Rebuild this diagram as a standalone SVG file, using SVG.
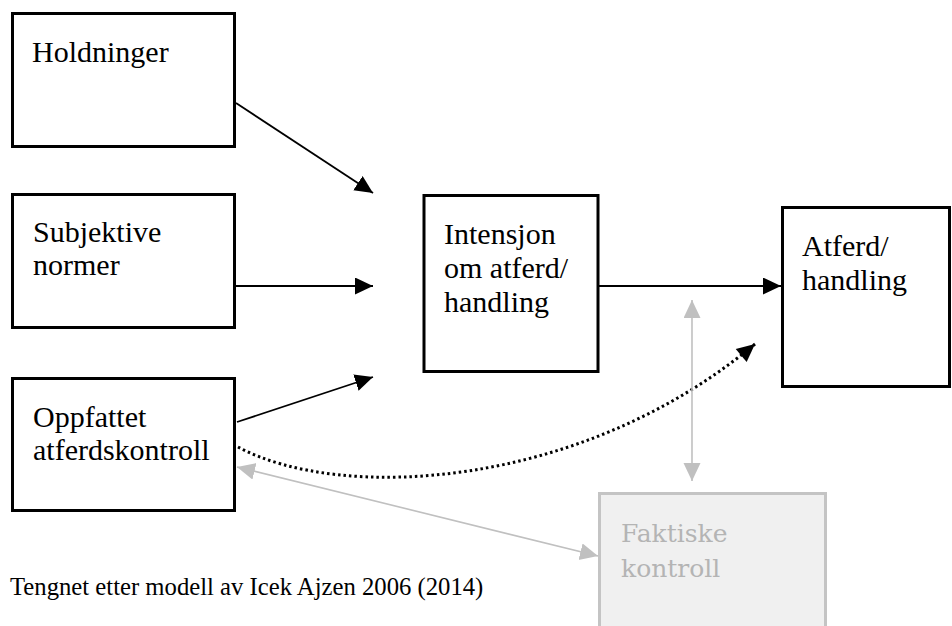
<svg xmlns="http://www.w3.org/2000/svg" width="952" height="626" viewBox="0 0 952 626">
<style>
.box{fill:#fff;stroke:#000;stroke-width:3}
.gbox{fill:#f0f0f0;stroke:#c4c4c4;stroke-width:3}
.lbl{font-family:"Liberation Serif","Times New Roman",serif;font-size:30px;fill:#000}
.glbl{font-family:"DejaVu Serif","Noto Serif",serif;font-size:25px;fill:#b4b4b4}
.cap{font-family:"Liberation Serif","Times New Roman",serif;font-size:24.7px;fill:#000}
.ln{fill:none;stroke:#000;stroke-width:1.8}
.dot{fill:none;stroke:#000;stroke-width:3;stroke-dasharray:2.5 3}
.gln{fill:none;stroke:#c0c0c0;stroke-width:1.6}
</style>
<defs>
<marker id="ah" markerUnits="userSpaceOnUse" markerWidth="20" markerHeight="20" refX="18" refY="8.5" orient="auto">
<path d="M0,0 L18,8.5 L0,17 z" fill="#000"/>
</marker>
<marker id="gh" markerUnits="userSpaceOnUse" markerWidth="20" markerHeight="20" refX="18" refY="8.5" orient="auto-start-reverse">
<path d="M0,0 L18,8.5 L0,17 z" fill="#c0c0c0"/>
</marker>
</defs>
<rect width="952" height="626" fill="#fff"/>
<g id="connectors">
<line class="ln" x1="236" y1="103" x2="373" y2="193" marker-end="url(#ah)"/>
<line class="ln" x1="236" y1="286" x2="373" y2="286" marker-end="url(#ah)"/>
<line class="ln" x1="237" y1="422" x2="373" y2="377" marker-end="url(#ah)"/>
<line class="ln" x1="599" y1="286" x2="781" y2="286" marker-end="url(#ah)"/>
<path class="dot" d="M238,447 C340,502 580,490 755,344"/>
<path d="M0,0 L18,8.5 L0,17 z" fill="#000" transform="translate(755,344) rotate(-39.9) translate(-18,-8.5)"/>
<line class="gln" x1="692" y1="300" x2="692" y2="481" marker-start="url(#gh)" marker-end="url(#gh)"/>
<line class="gln" x1="598" y1="556" x2="237" y2="467" marker-start="url(#gh)" marker-end="url(#gh)"/>
</g>
<g id="holdninger">
<rect class="box" x="12.5" y="13.5" width="222" height="133"/>
<text class="lbl" x="32" y="62">Holdninger</text>
</g>
<g id="subjektive">
<rect class="box" x="12.5" y="194.5" width="222" height="133"/>
<text class="lbl" x="33" y="242">Subjektive</text>
<text class="lbl" x="33" y="275">normer</text>
</g>
<g id="oppfattet">
<rect class="box" x="12.5" y="378.5" width="222" height="132"/>
<text class="lbl" x="33" y="427">Oppfattet</text>
<text class="lbl" x="33" y="460">atferdskontroll</text>
</g>
<g id="intensjon">
<rect class="box" x="424" y="195.5" width="174" height="176"/>
<text class="lbl" x="444" y="244">Intensjon</text>
<text class="lbl" x="444" y="278">om atferd/</text>
<text class="lbl" x="444" y="312">handling</text>
</g>
<g id="atferd">
<rect class="box" x="782.5" y="207.5" width="167" height="179"/>
<text class="lbl" x="802" y="256">Atferd/</text>
<text class="lbl" x="802" y="290">handling</text>
</g>
<g id="faktiske">
<rect class="gbox" x="599.5" y="493.5" width="226" height="200"/>
<text class="glbl" x="621" y="542">Faktiske</text>
<text class="glbl" x="621" y="577">kontroll</text>
</g>
<text class="cap" x="10" y="595">Tengnet etter modell av Icek Ajzen 2006 (2014)</text>
</svg>
